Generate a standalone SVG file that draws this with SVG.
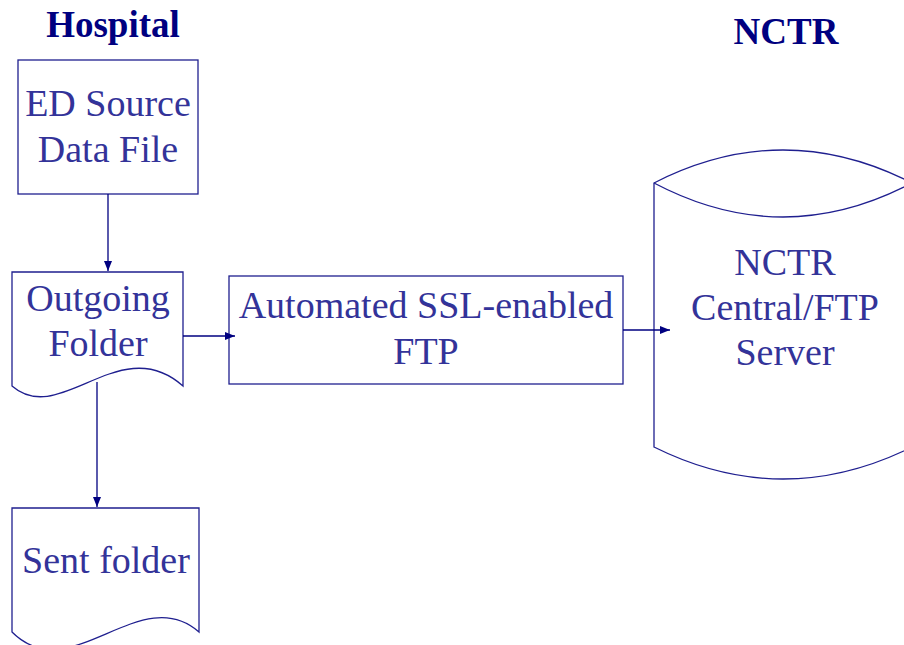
<svg xmlns="http://www.w3.org/2000/svg" width="904" height="645" viewBox="0 0 904 645">
<defs>
<marker id="ah" viewBox="0 0 10 8" refX="10" refY="4" markerWidth="10" markerHeight="8" markerUnits="userSpaceOnUse" orient="auto">
<path d="M0,0 L10,4 L0,8 Z" fill="#000080"/>
</marker>
</defs>
<style>
.s{fill:#fff;stroke:#1f1f8f;stroke-width:1.3}
.t{font-family:"Liberation Serif",serif;font-size:38px;fill:#333399;text-anchor:middle}
.h{font-family:"Liberation Serif",serif;font-size:37px;font-weight:bold;fill:#000080;text-anchor:middle}
.c{stroke:#000080;stroke-width:1.3;fill:none}
</style>
<rect width="904" height="645" fill="#fff"/>
<text class="h" x="113" y="37">Hospital</text>
<text class="h" x="786" y="44">NCTR</text>
<g id="ed-source">
<rect class="s" x="18" y="60" width="180" height="134"/>
<text class="t" x="108" y="116">ED Source</text>
<text class="t" x="108" y="162">Data File</text>
</g>
<g id="outgoing">
<path class="s" d="M12,272 H183 V386 C120,330 60,428 12,386 Z"/>
<text class="t" x="98" y="311">Outgoing</text>
<text class="t" x="98" y="356">Folder</text>
</g>
<g id="sent">
<path class="s" d="M12,508 H199 V632 C140,580 70,690 12,632 Z"/>
<text class="t" x="106" y="573">Sent folder</text>
</g>
<g id="ftp">
<rect class="s" x="229" y="276" width="394" height="108"/>
<text class="t" x="426" y="318">Automated SSL-enabled</text>
<text class="t" x="426" y="364">FTP</text>
</g>
<g id="nctr-server">
<path class="s" d="M654,183 Q783,117 912,183 V447 Q783,511 654,447 Z"/>
<path class="s" d="M654,183 Q783,251 912,183" fill="none"/>
<text class="t" x="785" y="275">NCTR</text>
<text class="t" x="785" y="320">Central/FTP</text>
<text class="t" x="785" y="365">Server</text>
</g>
<g id="connectors">
<line class="c" x1="108" y1="194" x2="108" y2="271" marker-end="url(#ah)"/>
<line class="c" x1="183" y1="336" x2="235" y2="336" marker-end="url(#ah)"/>
<line class="c" x1="97" y1="382" x2="97" y2="507" marker-end="url(#ah)"/>
<line class="c" x1="623" y1="330" x2="670" y2="330" marker-end="url(#ah)"/>
</g>
</svg>
